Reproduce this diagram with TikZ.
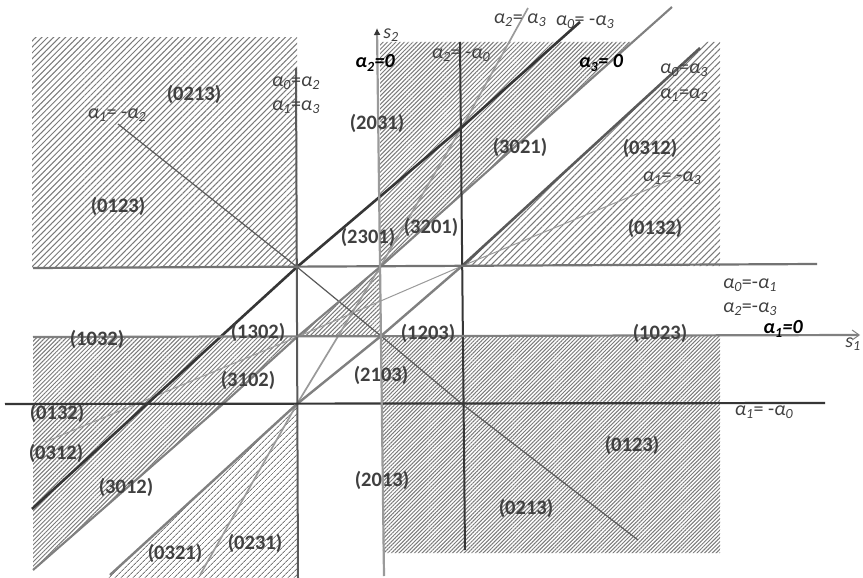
\documentclass[tikz,border=0pt]{standalone}
\usepackage{fontspec}
\setmainfont{Carlito}
\usetikzlibrary{patterns.meta,arrows.meta}
\definecolor{hatchgray}{HTML}{7A7A7A}
\definecolor{dk}{HTML}{363636}
\definecolor{md}{HTML}{5A5A5A}
\definecolor{gr}{HTML}{808080}
\definecolor{lg}{HTML}{9A9A9A}
\definecolor{txt}{HTML}{404040}
\newcommand\al[1]{\textit{α}\textsubscript{\textit{#1}}}
\newcommand\alb[1]{\textbf{\textit{α}\textsubscript{\textit{#1}}}}
\tikzset{
  hatch/.style={pattern={Lines[angle=45,distance=#1,line width=1pt]},pattern color=hatchgray},
  rl/.style={font=\fontsize{20.5}{22}\selectfont\bfseries, text=txt, inner sep=0pt},
  al/.style={font=\fontsize{20}{22}\selectfont, text=txt, inner sep=0pt},
  alb/.style={font=\fontsize{20}{22}\selectfont\bfseries\itshape, text=black, inner sep=0pt},
  thickdark/.style={line width=2.6pt, draw=dk},
  darkline/.style={line width=2.1pt, draw=md},
  grayline/.style={line width=2.1pt, draw=gr},
  lightline/.style={line width=1.7pt, draw=lg},
  thinline/.style={line width=1.2pt, draw=md},
  thingray/.style={line width=1pt, draw=lg},
}
\begin{document}
\begin{tikzpicture}[x=1pt,y=1pt]
\useasboundingbox (0,0) rectangle (863,-578);
\fill[white] (0,0) rectangle (863,-578);

% intersection points
\coordinate (LT) at (297,-267);
\coordinate (MT) at (380,-267);
\coordinate (RT) at (462,-266);
\coordinate (LM) at (297,-337);
\coordinate (MM) at (381,-336);
\coordinate (RM) at (462,-336);
\coordinate (LB) at (297,-404);
\coordinate (RB) at (462,-404);
\coordinate (RU) at (462,-127);
\coordinate (AL) at (223,-404);

% hatched regions
\path[hatch=4.2pt] (32,-38) -- (297,-38) -- (297,-267) -- (32,-267) -- cycle;
\path[hatch=3pt] (380,-42) -- (633,-42) -- (MT) -- cycle;
\path[hatch=3pt] (LM) -- (MT) -- (MM) -- cycle;
\path[hatch=4.5pt] (706,-42) -- (720,-42) -- (720,-266) -- (RT) -- cycle;
\path[hatch=3pt] (33,-337) -- (LM) -- (AL) -- (33,-570) -- cycle;
\path[hatch=4pt] (LB) -- (297,-578) -- (108,-578) -- cycle;
\path[hatch=2.7pt] (MM) -- (720,-336) -- (720,-553) -- (383,-553) -- cycle;

% coordinates for line ends
\coordinate (s1a) at (33,-337);
\coordinate (s1b) at (860,-335);
\coordinate (s2a) at (384,-576);
\coordinate (s2b) at (377,-28);
\coordinate (vLa) at (296,-68);
\coordinate (vLb) at (298,-578);
\coordinate (vRa) at (460,-42);
\coordinate (vRb) at (465,-550);
\coordinate (hTa) at (33,-268);
\coordinate (hTb) at (817,-264);
\coordinate (hBa) at (5,-404);
\coordinate (hBb) at (825,-403);
\coordinate (d1a) at (32,-509);
\coordinate (d1b) at (580,-22);
\coordinate (d2a) at (33,-570);
\coordinate (d2b) at (672,-7);
\coordinate (d3a) at (110,-575);
\coordinate (d3b) at (700,-48);
\coordinate (d4a) at (200,-575);
\coordinate (d4b) at (528,-8);
\coordinate (d5a) at (118,-124);
\coordinate (d5b) at (638,-540);
\coordinate (d6a) at (45,-442);
\coordinate (d6b) at (690,-172);

% lines
\draw[thingray] (d6a) -- (LM) -- (RT) -- (d6b);
\draw[thinline] (d5a) -- (LT) -- (MM) -- (RB) -- (d5b);
\draw[lightline] (d4a) -- (LB) -- (MT) -- (RU) -- (d4b);
\draw[grayline] (d2a) -- (AL) -- (LM) -- (MT) -- (d2b);
\draw[line width=2.4pt, draw=gr] (d3a) -- (LB) -- (MM) -- (RT);
\draw[line width=2.6pt, draw=md] (RT) -- (d3b);
\draw[thickdark] (d1a) -- (LT) -- (RU) -- (d1b);
\draw[line width=2pt, draw=md] (vLa) -- (vLb);
\draw[line width=2pt, draw=dk] (vRa) -- (vRb);
\draw[line width=2.2pt, draw=gr!90!black] (hTa) -- (hTb);
\draw[line width=2.2pt, draw=dk] (hBa) -- (hBb);
\draw[line width=2.2pt, draw=gr, -{Straight Barb[length=7pt,width=10pt,line width=1pt]}] (s1a) -- (s1b);
\draw[line width=2.2pt, draw=lg, -{Latex[length=7pt,width=7pt,color=dk]}] (s2a) -- (s2b);

% region labels
\node[rl] (r1) at (194,-94) {(0213)};
\node[rl] (r2) at (118,-206) {(0123)};
\node[rl] (r3) at (377,-123) {(2031)};
\node[rl] (r4) at (520,-147) {(3021)};
\node[rl] (r5) at (650,-148) {(0312)};
\node[rl] (r6) at (655,-228) {(0132)};
\node[rl] (r7) at (368,-237) {(2301)};
\node[rl] (r8) at (431,-227) {(3201)};
\node[rl] (r9) at (97,-339) {(1032)};
\node[rl] (r10) at (258,-332) {(1302)};
\node[rl] (r11) at (428,-333) {(1203)};
\node[rl] (r12) at (660,-333) {(1023)};
\node[rl] (r13) at (248,-380) {(3102)};
\node[rl] (r14) at (381,-375) {(2103)};
\node[rl] (r15) at (57,-413) {(0132)};
\node[rl] (r16) at (56,-453) {(0312)};
\node[rl] (r17) at (126,-487) {(3012)};
\node[rl] (r18) at (175,-553) {(0321)};
\node[rl] (r19) at (255,-543) {(0231)};
\node[rl] (r20) at (382,-480) {(2013)};
\node[rl] (r21) at (526,-508) {(0213)};
\node[rl] (r22) at (632,-445) {(0123)};

% line labels
\node[al] (l1) at (117,-115) {\al{1}= -\al{2}};
\node[al] (l2) at (296,-83) {\al{0}=\al{2}};
\node[al] (l3) at (296,-107) {\al{1}=\al{3}};
\node[al] (l4) at (391,-35) {\textit{s}\textsubscript{\textit{2}}};
\node[alb] (l5) at (375,-63) {\alb{2}=0};
\node[al] (l6) at (461,-55) {\al{2}= -\al{0}};
\node[al] (l7) at (520,-20) {\al{2}= \al{3}};
\node[al] (l8) at (585,-22) {\al{0}= -\al{3}};
\node[alb] (l9) at (601,-63) {\alb{3}= 0};
\node[al] (l10) at (684,-70) {\al{0}=\al{3}};
\node[al] (l11) at (684,-95) {\al{1}=\al{2}};
\node[al] (l12) at (672,-178) {\al{1}= -\al{3}};
\node[al] (l13) at (750,-285) {\al{0}=-\al{1}};
\node[al] (l14) at (750,-309) {\al{2}=-\al{3}};
\node[alb] (l15) at (783,-329) {\alb{1}=0};
\node[al] (l16) at (853,-344) {\textit{s}\textsubscript{\textit{1}}};
\node[al] (l17) at (764,-412) {\al{1}= -\al{0}};
\end{tikzpicture}
\end{document}
